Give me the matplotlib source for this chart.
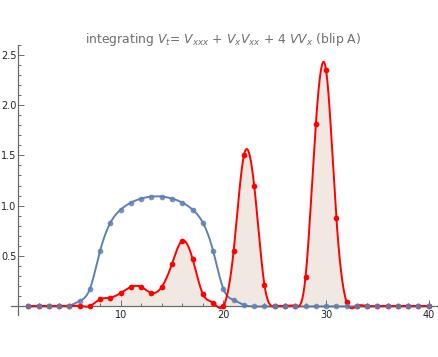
import numpy as np
import matplotlib
matplotlib.use("Agg")
import matplotlib.pyplot as plt
from matplotlib.ticker import MultipleLocator, FixedLocator

# sample positions (grid points)
x_pts = np.arange(1, 41)

# initial profile (blue)
v_initial = [-0.005, -0.005, -0.005, -0.005, 0.003, 0.05, 0.17, 0.55, 0.83, 0.96,
             1.03, 1.07, 1.09, 1.09, 1.07, 1.03, 0.96, 0.83, 0.55, 0.17,
             0.06, 0.01, -0.005, -0.005, -0.005, -0.005, -0.005, -0.005, -0.005, -0.005,
             -0.005, -0.005, -0.005, -0.005, -0.005, -0.005, -0.005, -0.005, -0.005, -0.005]

# integrated profile (red)
v_final = [0.0, 0.0, 0.0, 0.0, 0.0, 0.0, 0.0, 0.067, 0.083, 0.13,
           0.19, 0.19, 0.13, 0.19, 0.42, 0.65, 0.47, 0.12, 0.033, 0.0,
           0.55, 1.50, 1.20, 0.21, 0.0, 0.0, 0.0, 0.29, 1.81, 2.35,
           0.88, 0.04, 0.0, 0.0, 0.0, 0.0, 0.0, 0.0, 0.0, 0.0]

x_ticks = [10, 20, 30, 40]
y_ticks = [0.5, 1.0, 1.5, 2.0, 2.5]

BLUE = "#5E81B5"
RED = "#FF0000"
FILL = "#F1E8E2"
AXIS = "#6B6B6B"


def cubic_spline(x, y, xs):
    """Natural cubic spline through (x, y), evaluated at xs."""
    x = np.asarray(x, float)
    y = np.asarray(y, float)
    n = len(x)
    h = np.diff(x)
    A = np.zeros((n, n))
    b = np.zeros(n)
    A[0, 0] = 1.0
    A[-1, -1] = 1.0
    for i in range(1, n - 1):
        A[i, i - 1] = h[i - 1]
        A[i, i] = 2 * (h[i - 1] + h[i])
        A[i, i + 1] = h[i]
        b[i] = 3 * ((y[i + 1] - y[i]) / h[i] - (y[i] - y[i - 1]) / h[i - 1])
    c = np.linalg.solve(A, b)
    bc = (y[1:] - y[:-1]) / h - h * (2 * c[:-1] + c[1:]) / 3
    d = (c[1:] - c[:-1]) / (3 * h)
    idx = np.clip(np.searchsorted(x, xs) - 1, 0, n - 2)
    dx = xs - x[idx]
    return y[idx] + bc[idx] * dx + c[idx] * dx ** 2 + d[idx] * dx ** 3


xs = np.linspace(x_pts[0], x_pts[-1], 2000)
blue_curve = cubic_spline(x_pts, v_initial, xs)
red_curve = cubic_spline(x_pts, v_final, xs)

fig = plt.figure(figsize=(4.39, 3.57), dpi=100)
ax = fig.add_axes([0.0246, 0.1176, 0.9708, 0.7564])

ax.fill_between(xs, red_curve, 0, color=FILL, lw=0, zorder=1)
ax.plot(xs, red_curve, color=RED, lw=1.4, zorder=3)
ax.plot(x_pts, v_final, "o", color=RED, ms=4.1, mec="none", zorder=4)
ax.plot(xs, blue_curve, color=BLUE, lw=1.4, zorder=2)
ax.plot(x_pts, v_initial, "o", color=BLUE, ms=4.1, mec="none", alpha=0.85, zorder=5)

ax.set_xlim(-0.7, 40.8)
ax.set_ylim(-0.09, 2.6)

for side in ("top", "right"):
    ax.spines[side].set_visible(False)
ax.spines["left"].set_position(("data", 0))
ax.spines["bottom"].set_position(("data", 0))
for side in ("left", "bottom"):
    ax.spines[side].set_color(AXIS)
    ax.spines[side].set_linewidth(0.9)

ax.xaxis.set_major_locator(FixedLocator(x_ticks))
ax.xaxis.set_minor_locator(MultipleLocator(2))
ax.yaxis.set_major_locator(FixedLocator(y_ticks))
ax.yaxis.set_minor_locator(MultipleLocator(0.1))
ax.set_xticklabels([str(t) for t in x_ticks])
ax.set_yticklabels([f"{t:.1f}" for t in y_ticks])

ax.tick_params(which="both", direction="in", color=AXIS, labelsize=7,
               labelcolor="#222222", width=0.7)
ax.tick_params(axis="x", which="major", length=4, pad=3)
ax.tick_params(axis="y", which="major", length=4, pad=1.2)
ax.tick_params(which="minor", length=2.2)

fig.text(0.509, 1 - 40 / 357,
         r"integrating $V_t$= $V_{xxx}$ + $V_x V_{xx}$ + 4 $V V_x$ (blip A)",
         ha="center", va="center", fontsize=8.9, color="#6E6E6E")

fig.savefig("out.png", dpi=100)
